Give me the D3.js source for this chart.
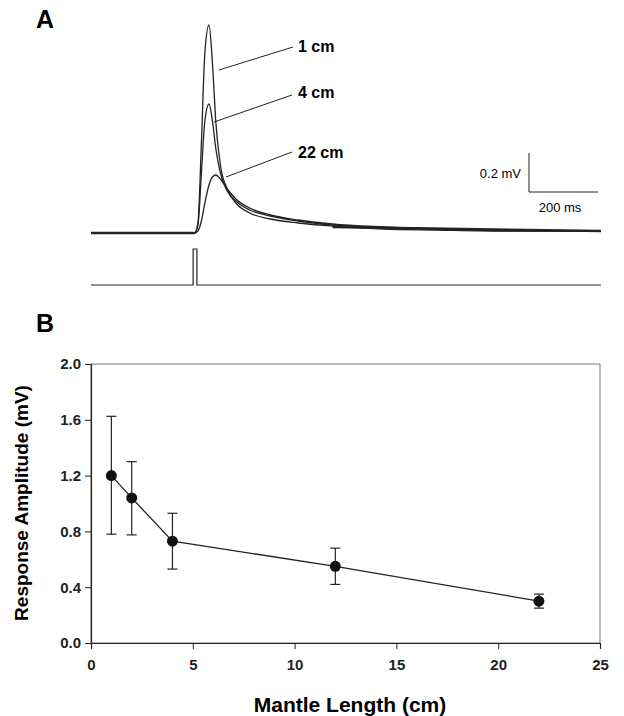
<!DOCTYPE html>
<html><head><meta charset="utf-8">
<script src="https://cdn.jsdelivr.net/npm/d3@7"></script>
<style>body{margin:0;background:#fff}text{font-family:"Liberation Sans",Arial,sans-serif}</style>
</head><body><div id="chart"></div>
<script>
// panel A traces (time ms, amplitude mV)
const TRACE_T = [0, 300, 310, 320, 330, 342, 352, 362, 375, 395, 420, 460, 520, 600, 700, 850, 1000, 1200, 1478];
const TRACE_1CM = [0, 0, 0.05, 0.45, 0.9, 1.04, 0.85, 0.55, 0.34, 0.22, 0.15, 0.10, 0.07, 0.05, 0.035, 0.02, 0.015, 0.01, 0.01];
const TRACE_4CM = [0, 0, 0.04, 0.3, 0.56, 0.645, 0.56, 0.42, 0.3, 0.21, 0.16, 0.115, 0.085, 0.06, 0.04, 0.025, 0.02, 0.012, 0.01];
const TRACE_22CM = [0, 0, 0.01, 0.06, 0.15, 0.24, 0.28, 0.29, 0.27, 0.22, 0.17, 0.125, 0.09, 0.065, 0.045, 0.03, 0.02, 0.012, 0.01];
const TRACE_LABELS = ["1 cm", "4 cm", "22 cm"];
const STIM_T = [0, 296, 296, 307, 307, 1478];
const STIM_V = [0, 0, 1, 1, 0, 0];

// panel B
const MANTLE = [1, 2, 4, 12, 22];
const AMPLITUDE = [1.2, 1.04, 0.73, 0.55, 0.30];
const ERR_LO = [0.78, 0.775, 0.53, 0.42, 0.25];
const ERR_HI = [1.625, 1.30, 0.93, 0.68, 0.35];
const X_TICKS = [0, 5, 10, 15, 20, 25];
const Y_TICKS = [0, 0.4, 0.8, 1.2, 1.6, 2.0];

const svg = d3.select('#chart').append('svg').attr('width', 624).attr('height', 716);

// ---- panel A
svg.append('text').attr('x', 36).attr('y', 28).attr('font-size', 25).attr('font-weight', 'bold').text('A');
const tx = d3.scaleLinear().domain([0, 200]).range([91, 160]);
const ty = d3.scaleLinear().domain([0, 0.2]).range([233, 193]);
const line = d3.line().x(d => tx(d[0])).y(d => ty(d[1])).curve(d3.curveMonotoneX);
[TRACE_1CM, TRACE_4CM, TRACE_22CM].forEach(tr => {
  svg.append('path').attr('d', line(TRACE_T.map((t, i) => [t, tr[i]])))
    .attr('fill', 'none').attr('stroke', '#222').attr('stroke-width', 1.3);
});
// thicker baseline where the noisy traces overlap
svg.append('path').attr('d', line([[0, 0], [300, 0]])).attr('stroke', '#222').attr('stroke-width', 2.4);
svg.append('path').attr('d', line([[700, 0.03], [1478, 0.01]])).attr('stroke', '#222').attr('stroke-width', 2.4);

const sy = d3.scaleLinear().domain([0, 1]).range([285, 249]);
svg.append('path').attr('d', d3.line().x(d => tx(d[0])).y(d => sy(d[1]))(STIM_T.map((t, i) => [t, STIM_V[i]])))
  .attr('fill', 'none').attr('stroke', '#222').attr('stroke-width', 1.2);

// labels + leaders
const leaders = [[219, 70, 293, 47, 52], [214, 122, 292, 95, 98], [226, 177, 292, 152, 158]];
leaders.forEach((l, i) => {
  svg.append('line').attr('x1', l[0]).attr('y1', l[1]).attr('x2', l[2]).attr('y2', l[3]).attr('stroke', '#222');
  svg.append('text').attr('x', 298).attr('y', l[4]).attr('font-size', 16).attr('font-weight', 'bold').text(TRACE_LABELS[i]);
});
// scale bar
svg.append('path').attr('d', `M${tx(0) + 438},${ty(0.2) - 40}V${ty(0) - 41}H${tx(200) + 438}`)
  .attr('fill', 'none').attr('stroke', '#222');
svg.append('text').attr('x', 521).attr('y', 178).attr('text-anchor', 'end').attr('font-size', 13).text('0.2 mV');
svg.append('text').attr('x', 560).attr('y', 212).attr('text-anchor', 'middle').attr('font-size', 13).text('200 ms');

// ---- panel B
svg.append('text').attr('x', 36).attr('y', 332).attr('font-size', 25).attr('font-weight', 'bold').text('B');
const x = d3.scaleLinear().domain([0, 25]).range([91, 600]);
const y = d3.scaleLinear().domain([0, 2]).range([643, 364]);
svg.append('rect').attr('x', 91).attr('y', 364).attr('width', 509).attr('height', 279)
  .attr('fill', 'none').attr('stroke', '#555').attr('stroke-width', 0.8);
const xa = svg.append('g').attr('transform', 'translate(0,643)')
  .call(d3.axisBottom(x).tickValues(X_TICKS).tickSize(6).tickPadding(10).tickFormat(d3.format('d')));
const ya = svg.append('g').attr('transform', 'translate(91,0)')
  .call(d3.axisLeft(y).tickValues(Y_TICKS).tickSize(6).tickPadding(4).tickFormat(d3.format('.1f')));
[xa, ya].forEach(a => {
  a.select('.domain').attr('stroke', '#222').attr('stroke-width', 1.2);
  a.selectAll('text').attr('font-size', 15).attr('font-weight', 'bold').attr('fill', '#222');
  a.selectAll('line').attr('stroke', '#222');
});
svg.append('text').attr('x', 350).attr('y', 712).attr('text-anchor', 'middle')
  .attr('font-size', 21).attr('font-weight', 'bold').text('Mantle Length (cm)');
svg.append('text').attr('transform', 'translate(28,503) rotate(-90)').attr('text-anchor', 'middle')
  .attr('font-size', 19).attr('font-weight', 'bold').text('Response Amplitude (mV)');

const pts = MANTLE.map((m, i) => ({m, a: AMPLITUDE[i], lo: ERR_LO[i], hi: ERR_HI[i]}));
svg.append('path').attr('d', d3.line().x(d => x(d.m)).y(d => y(d.a))(pts))
  .attr('fill', 'none').attr('stroke', '#222').attr('stroke-width', 1.3);
const eb = svg.selectAll('g.eb').data(pts).enter().append('g').attr('stroke', '#222').attr('stroke-width', 1.2);
eb.append('line').attr('x1', d => x(d.m)).attr('x2', d => x(d.m)).attr('y1', d => y(d.lo)).attr('y2', d => y(d.hi));
eb.append('line').attr('x1', d => x(d.m) - 5).attr('x2', d => x(d.m) + 5).attr('y1', d => y(d.lo)).attr('y2', d => y(d.lo));
eb.append('line').attr('x1', d => x(d.m) - 5).attr('x2', d => x(d.m) + 5).attr('y1', d => y(d.hi)).attr('y2', d => y(d.hi));
svg.selectAll('circle').data(pts).enter().append('circle')
  .attr('cx', d => x(d.m)).attr('cy', d => y(d.a)).attr('r', 5.5).attr('fill', '#111');
</script></body></html>
